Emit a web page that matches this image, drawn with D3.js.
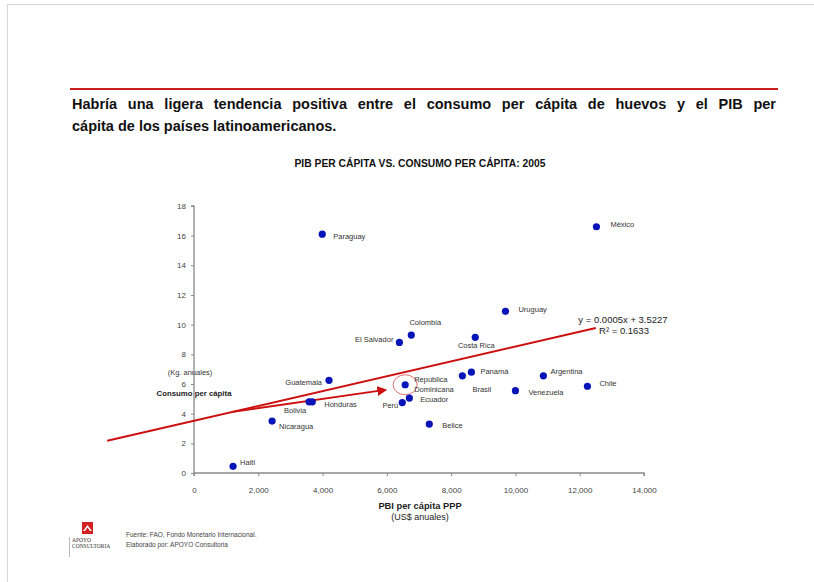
<!DOCTYPE html>
<html>
<head>
<meta charset="utf-8">
<script src="https://cdn.jsdelivr.net/npm/d3@7/dist/d3.min.js"></script>
<style>
  html, body { margin: 0; padding: 0; background: #fff; }
  svg { display: block; font-family: "Liberation Sans", Arial, sans-serif; }
</style>
</head>
<body>
<svg id="chart" width="814" height="582"></svg>
<script>
// Countries with GDP per capita PPP (US$/year) and egg consumption per capita (kg/year), 2005
const countries = ["Paraguay", "México", "Uruguay", "Colombia", "El Salvador", "Costa Rica",
  "Panamá", "Brasil", "Argentina", "Chile", "Venezuela", "República Dominicana", "Ecuador",
  "Perú", "Belice", "Guatemala", "Honduras", "Bolivia", "Nicaragua", "Haiti"];
const pibPerCapita = [3990, 12520, 9690, 6760, 6390, 8750,
  8630, 8350, 10870, 12240, 10000, 6570, 6700,
  6480, 7320, 4200, 3680, 3580, 2430, 1215];
const consumoPerCapita = [16.1, 16.6, 10.9, 9.3, 8.8, 9.15,
  6.8, 6.55, 6.55, 5.85, 5.55, 5.95, 5.05,
  4.75, 3.3, 6.25, 4.8, 4.8, 3.5, 0.45];

// Linear trend: y = 0.0005x + 3.5227, R² = 0.1633
const trendSlope = 0.0005;
const trendIntercept = 3.5227;
const trendR2 = 0.1633;
const trendRange = [-2700, 12500];

const xTicks = [0, 2000, 4000, 6000, 8000, 10000, 12000, 14000];
const yTicks = [0, 2, 4, 6, 8, 10, 12, 14, 16, 18];

// Annotation arrow (data units): from the trend line toward República Dominicana
const arrowFromX = 1200;
const arrowTo = [5950, 5.6];
const highlighted = "República Dominicana";

// Label placement around each dot (pixels)
const labelPlacement = {
  "Paraguay":   {dx: 11, dy: 5, anchor: "start"},
  "México":     {dx: 14, dy: 0, anchor: "start"},
  "Uruguay":    {dx: 13, dy: 1, anchor: "start"},
  "Colombia":   {dx: 14, dy: -10, anchor: "middle"},
  "El Salvador":{dx: -6, dy: 0, anchor: "end"},
  "Costa Rica": {dx: 1, dy: 11, anchor: "middle"},
  "Panamá":     {dx: 9, dy: 2, anchor: "start"},
  "Brasil":     {dx: 10, dy: 16, anchor: "start"},
  "Argentina":  {dx: 7, dy: -2, anchor: "start"},
  "Chile":      {dx: 12, dy: 0, anchor: "start"},
  "Venezuela":  {dx: 13, dy: 4, anchor: "start"},
  "Ecuador":    {dx: 11, dy: 4, anchor: "start"},
  "Perú":       {dx: -4, dy: 5, anchor: "end"},
  "Belice":     {dx: 13, dy: 4, anchor: "start"},
  "Guatemala":  {dx: -7, dy: 5, anchor: "end"},
  "Honduras":   {dx: 12, dy: 5, anchor: "start"},
  "Bolivia":    {dx: -25, dy: 11, anchor: "start"},
  "Nicaragua":  {dx: 7, dy: 8, anchor: "start"},
  "Haiti":      {dx: 7, dy: -1, anchor: "start"}
};

const svg = d3.select("#chart");

// slide frame
svg.append("line").attr("x1", 7).attr("x2", 814).attr("y1", 4.5).attr("y2", 4.5)
  .attr("stroke", "#d8d8d8").attr("stroke-width", 1);
svg.append("line").attr("x1", 7.5).attr("x2", 7.5).attr("y1", 4).attr("y2", 582)
  .attr("stroke", "#d8d8d8").attr("stroke-width", 1);

// header rule
svg.append("line").attr("x1", 70).attr("x2", 778).attr("y1", 89).attr("y2", 89)
  .attr("stroke", "#c81e1e").attr("stroke-width", 2);

// headline, justified on the first line
const headLines = [
  "Habría una ligera tendencia positiva entre el consumo per cápita de huevos y el PIB per",
  "cápita de los países latinoamericanos."
];
const headWidth = 704;
headLines.forEach((t, i) => {
  const txt = svg.append("text")
    .attr("x", 72).attr("y", 109 + i * 22)
    .attr("font-size", 14.5).attr("font-weight", "bold").attr("fill", "#111")
    .text(t);
  if (i === 0) {
    const w = txt.node().getComputedTextLength();
    const gaps = t.split(" ").length - 1;
    txt.attr("word-spacing", (headWidth - w) / gaps);
  }
});

// chart title
svg.append("text").attr("x", 420).attr("y", 167).attr("text-anchor", "middle")
  .attr("font-size", 10.3).attr("font-weight", "bold").attr("fill", "#111")
  .text("PIB PER CÁPITA VS. CONSUMO PER CÁPITA: 2005");

// scales
const x = d3.scaleLinear().domain([0, 14000]).range([194, 644]);
const y = d3.scaleLinear().domain([0, 18]).range([473, 206]);

const axisColor = "#8a8a8a";
const tickText = "#444";

// x axis
const xAxis = svg.append("g").attr("transform", `translate(0,${y(0)})`)
  .call(d3.axisBottom(x).tickValues(xTicks).tickSize(3).tickPadding(11)
    .tickFormat(d3.format(",")));
// y axis
const yAxis = svg.append("g").attr("transform", `translate(${x(0)},0)`)
  .call(d3.axisLeft(y).tickValues(yTicks).tickSize(3).tickPadding(5));
[xAxis, yAxis].forEach(g => {
  g.select(".domain").attr("stroke", axisColor).attr("stroke-width", 1.3);
  g.selectAll(".tick line").attr("stroke", axisColor);
  g.selectAll(".tick text").attr("fill", tickText).attr("font-size", 8)
    .attr("font-family", "'Liberation Sans', Arial, sans-serif");
});
yAxis.select(".domain").attr("d", `M-3,${y(18)}H0V${y(0)}`);
xAxis.select(".domain").attr("d", `M${x(0)},3V0H${x(14000)}V3`);

// axis titles
svg.append("text").attr("x", 420).attr("y", 509).attr("text-anchor", "middle")
  .attr("font-size", 9.3).attr("font-weight", "bold").attr("fill", "#222")
  .text("PBI per cápita PPP");
svg.append("text").attr("x", 420).attr("y", 520).attr("text-anchor", "middle")
  .attr("font-size", 9).attr("fill", "#222")
  .text("(US$ anuales)");
svg.append("text").attr("x", 190).attr("y", 375).attr("text-anchor", "middle")
  .attr("font-size", 7.5).attr("fill", "#333")
  .text("(Kg. anuales)");
svg.append("text").attr("x", 194).attr("y", 396).attr("text-anchor", "middle")
  .attr("font-size", 7.8).attr("font-weight", "bold").attr("fill", "#222")
  .text("Consumo per cápita");

// trend line
const trendY = v => trendSlope * v + trendIntercept;
svg.append("line")
  .attr("x1", x(trendRange[0])).attr("y1", y(trendY(trendRange[0])))
  .attr("x2", x(trendRange[1])).attr("y2", y(trendY(trendRange[1])))
  .attr("stroke", "#cc1010").attr("stroke-width", 2);

svg.append("text").attr("x", 623).attr("y", 323).attr("text-anchor", "middle")
  .attr("font-size", 9.5).attr("fill", "#222")
  .text(`y = ${trendSlope.toFixed(4)}x + ${trendIntercept.toFixed(4)}`);
svg.append("text").attr("x", 624).attr("y", 334).attr("text-anchor", "middle")
  .attr("font-size", 9.5).attr("fill", "#222")
  .text(`R² = ${trendR2.toFixed(4)}`);

// arrow annotation
svg.append("defs").append("marker")
  .attr("id", "arrowHead").attr("viewBox", "0 0 10 10")
  .attr("refX", 8).attr("refY", 5).attr("markerWidth", 5.5).attr("markerHeight", 5.5)
  .attr("orient", "auto")
  .append("path").attr("d", "M0,0L10,5L0,10z").attr("fill", "#cc1010");
svg.append("line")
  .attr("x1", x(arrowFromX)).attr("y1", y(trendY(arrowFromX)))
  .attr("x2", x(arrowTo[0])).attr("y2", y(arrowTo[1]))
  .attr("stroke", "#cc1010").attr("stroke-width", 1.8)
  .attr("marker-end", "url(#arrowHead)");

// data
const data = countries.map((c, i) => ({name: c, pib: pibPerCapita[i], consumo: consumoPerCapita[i]}));

// highlight ring
const hl = data.find(d => d.name === highlighted);
svg.append("ellipse").attr("cx", x(hl.pib)).attr("cy", y(hl.consumo))
  .attr("rx", 12).attr("ry", 10)
  .attr("fill", "none").attr("stroke", "#e07070").attr("stroke-width", 1);

svg.append("g").selectAll("circle").data(data).join("circle")
  .attr("cx", d => x(d.pib)).attr("cy", d => y(d.consumo)).attr("r", 3.6)
  .attr("fill", "#0614b8");

// point labels
const labels = svg.append("g").attr("font-size", 7.5).attr("fill", "#333");
data.forEach(d => {
  if (d.name === highlighted) {
    const t = labels.append("text").attr("x", x(d.pib) + 9).attr("y", y(d.consumo) - 3);
    t.append("tspan").text("República");
    t.append("tspan").attr("x", x(d.pib) + 9).attr("dy", 10).text("Dominicana");
    return;
  }
  const p = labelPlacement[d.name];
  labels.append("text")
    .attr("x", x(d.pib) + p.dx).attr("y", y(d.consumo) + p.dy)
    .attr("text-anchor", p.anchor)
    .text(d.name);
});

// footer logo
const logo = svg.append("g");
logo.append("rect").attr("x", 82).attr("y", 522).attr("width", 11).attr("height", 12).attr("fill", "#d42020");
logo.append("path").attr("d", "M83,531L87.5,525L92,531L90,531L87.5,527.5L85,531Z").attr("fill", "#fff");
logo.append("line").attr("x1", 69.5).attr("x2", 69.5).attr("y1", 537).attr("y2", 557)
  .attr("stroke", "#999").attr("stroke-width", 0.7);
logo.append("text").attr("x", 72).attr("y", 542).attr("font-size", 5.5).attr("fill", "#333")
  .attr("font-family", "'Liberation Serif', serif").text("APOYO");
logo.append("text").attr("x", 72).attr("y", 548).attr("font-size", 5.5).attr("fill", "#333")
  .attr("font-family", "'Liberation Serif', serif").text("CONSULTORIA");

svg.append("text").attr("x", 126).attr("y", 537).attr("font-size", 6.5).attr("fill", "#444")
  .text("Fuente: FAO, Fondo Monetario Internacional.");
svg.append("text").attr("x", 126).attr("y", 547).attr("font-size", 6.5).attr("fill", "#444")
  .text("Elaborado por: APOYO Consultoria");
</script>
</body>
</html>
